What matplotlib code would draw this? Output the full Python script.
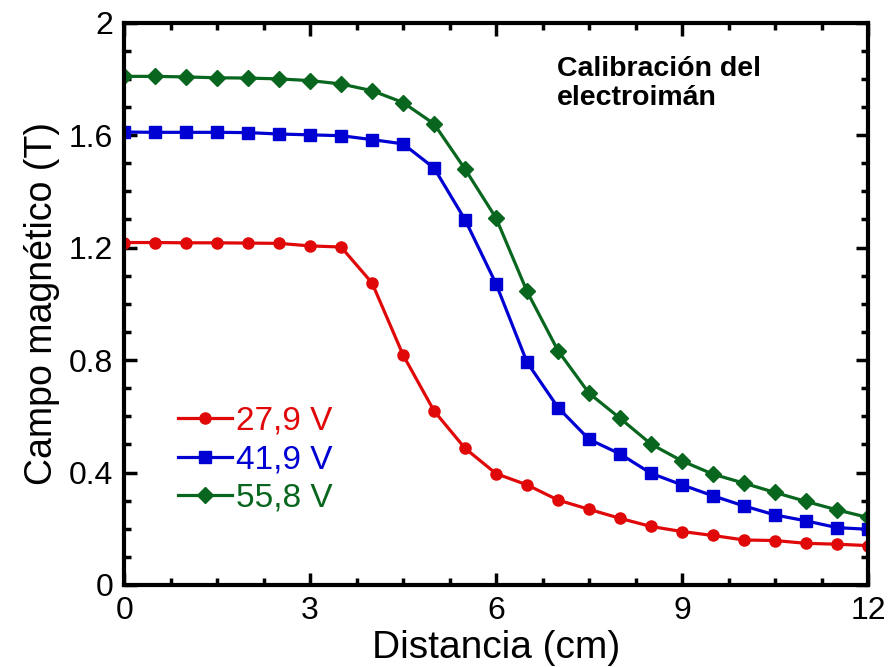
import matplotlib
matplotlib.use('Agg')
import matplotlib.pyplot as plt
from matplotlib.ticker import MultipleLocator

plt.rcParams['font.family'] = ['Liberation Sans', 'DejaVu Sans']

# distance (cm)
distancia = [0, 0.5, 1, 1.5, 2, 2.5, 3, 3.5, 4, 4.5, 5, 5.5, 6, 6.5, 7, 7.5,
             8, 8.5, 9, 9.5, 10, 10.5, 11, 11.5, 12]

# magnetic field (T) for each voltage
campo_27_9 = [1.218, 1.218, 1.217, 1.217, 1.216, 1.215, 1.206, 1.202, 1.074,
              0.818, 0.619, 0.486, 0.396, 0.356, 0.302, 0.269, 0.237, 0.208,
              0.190, 0.176, 0.160, 0.158, 0.148, 0.145, 0.140]
campo_41_9 = [1.611, 1.610, 1.610, 1.610, 1.609, 1.604, 1.601, 1.598, 1.584,
              1.569, 1.483, 1.299, 1.071, 0.792, 0.631, 0.518, 0.466, 0.397,
              0.356, 0.317, 0.281, 0.249, 0.228, 0.204, 0.198]
campo_55_8 = [1.809, 1.809, 1.807, 1.804, 1.803, 1.800, 1.794, 1.782, 1.758,
              1.716, 1.640, 1.479, 1.305, 1.044, 0.833, 0.682, 0.593, 0.501,
              0.441, 0.394, 0.362, 0.329, 0.297, 0.267, 0.240]

etiquetas = ['27,9 V', '41,9 V', '55,8 V']
colores = ['#e00808', '#0000d2', '#08661e']

y_ticks = [0, 0.4, 0.8, 1.2, 1.6, 2.0]
y_ticklabels = ['0', '0.4', '0.8', '1.2', '1.6', '2']

fig = plt.figure(figsize=(8.93, 6.67), dpi=100)
ax = fig.add_axes([0.139, 0.123, 0.833, 0.843])

ax.plot(distancia, campo_27_9, color=colores[0], lw=2.3, marker='o', ms=8,
        label=etiquetas[0])
ax.plot(distancia, campo_41_9, color=colores[1], lw=2.3, marker='s', ms=9,
        label=etiquetas[1])
ax.plot(distancia, campo_55_8, color=colores[2], lw=2.3, marker='D', ms=8,
        label=etiquetas[2])

ax.set_xlim(0, 12)
ax.set_ylim(0, 2)
ax.xaxis.set_major_locator(MultipleLocator(3))
ax.xaxis.set_minor_locator(MultipleLocator(0.75))
ax.set_yticks(y_ticks)
ax.set_yticklabels(y_ticklabels)
ax.yaxis.set_minor_locator(MultipleLocator(0.1))
ax.tick_params(which='both', direction='in', top=True, right=True, width=2.5)
ax.tick_params(which='major', length=9, labelsize=23, pad=8)
ax.tick_params(which='minor', length=5)
for s in ax.spines.values():
    s.set_linewidth(3)

ax.set_xlabel('Distancia (cm)', fontsize=28, labelpad=3)
ax.set_ylabel('Campo magnético (T)', fontsize=27, labelpad=6)

ax.text(0.582, 0.94, 'Calibración del\nelectroimán', transform=ax.transAxes,
        fontsize=20.5, fontweight='bold', va='top', ha='left', linespacing=1.15)

leg = ax.legend(loc='upper left', bbox_to_anchor=(0.055, 0.342), frameon=False,
                fontsize=24, handlelength=1.6, handletextpad=0.14,
                labelspacing=0.22, borderaxespad=0, labelcolor='linecolor')

fig.savefig('out.png', dpi=100)
